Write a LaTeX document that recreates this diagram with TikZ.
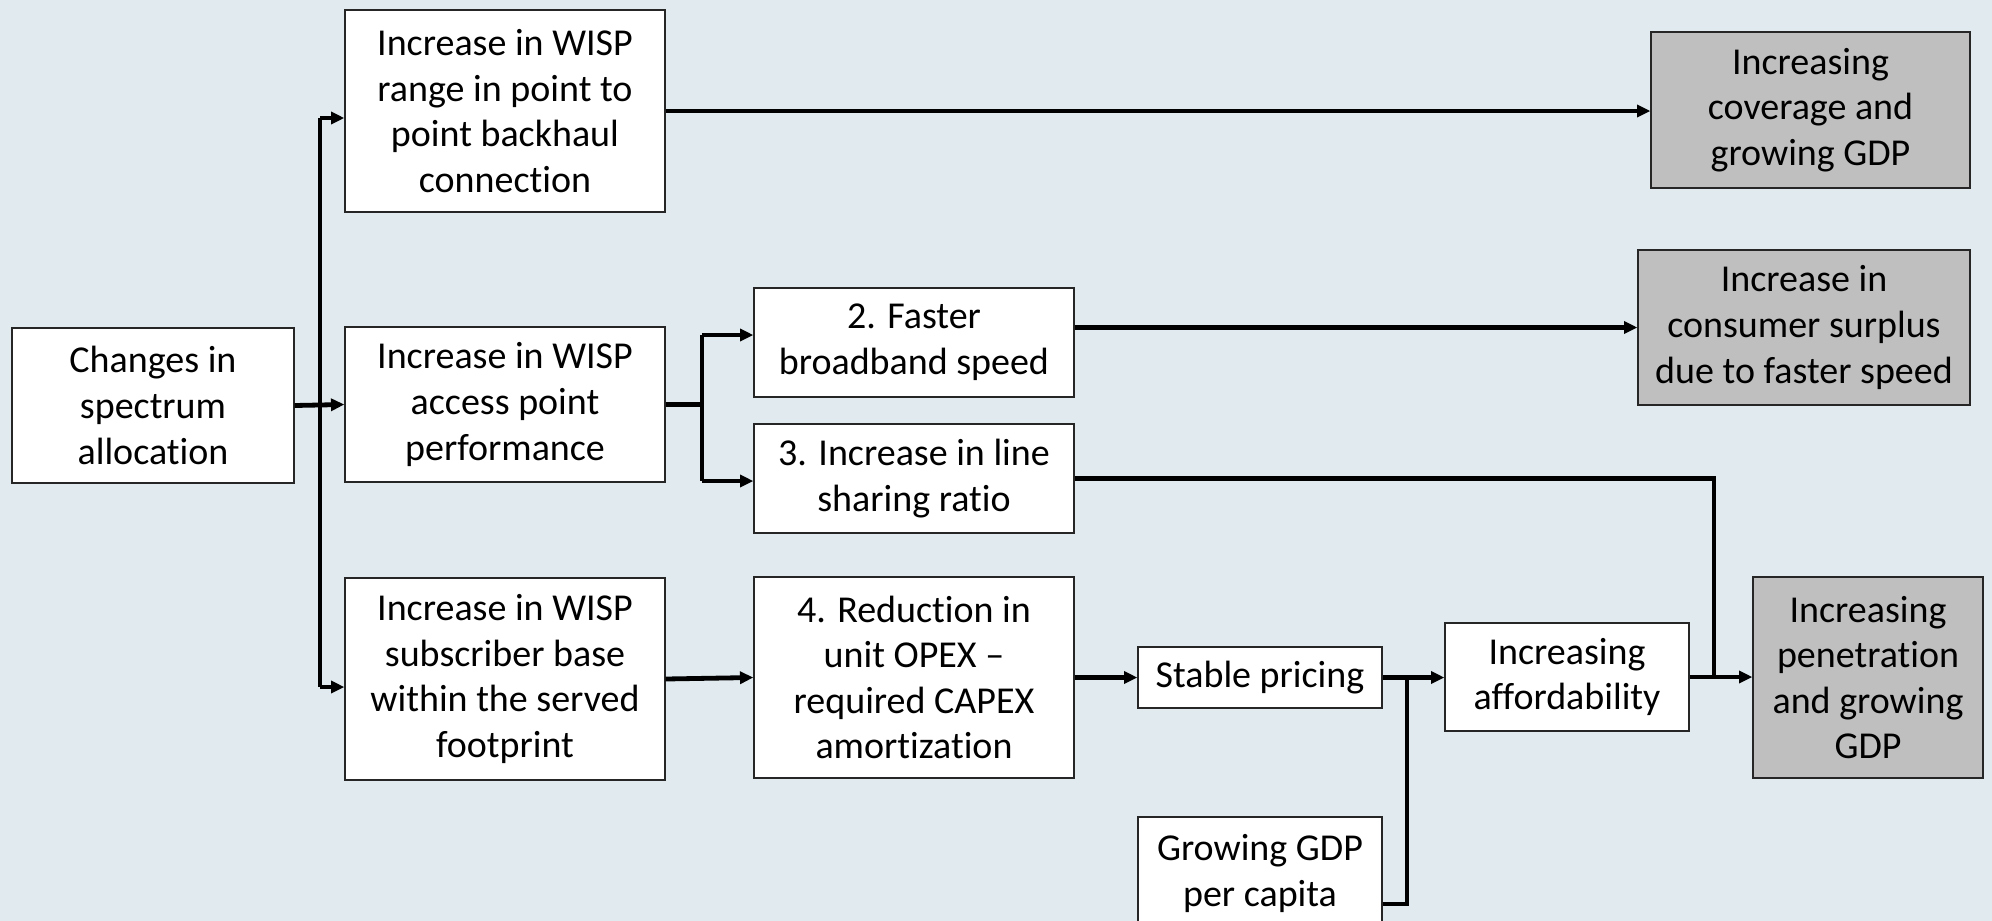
\documentclass[tikz,border=0pt]{standalone}
\usepackage{fontspec}
\setmainfont[Ligatures=NoCommon]{Carlito}
\usetikzlibrary{arrows.meta,calc}
\definecolor{bg}{RGB}{225,234,238}
\definecolor{boxgray}{RGB}{191,191,191}
\definecolor{edge}{RGB}{38,38,38}
\tikzset{
  box/.style={draw=edge, line width=1pt, fill=white, rectangle, inner sep=0pt, align=center,
    font=\fontsize{28.5}{34.2}\selectfont},
  gbox/.style={box, fill=boxgray},
  ln/.style={line width=3.6pt, black},
  arr/.style={ln, -{Triangle[length=10pt,width=9pt]}}
}
\begin{document}
\begin{tikzpicture}[x=0.75pt,y=-0.75pt]
\clip (0,0) rectangle (1992,921);
\fill[bg] (0,0) rectangle (1992,921);
% nodes
\node[box, minimum width=211.5pt, minimum height=116.25pt] (chg) at (153,405.5) {Changes in\\spectrum\\allocation};
\node[box, minimum width=240pt, minimum height=151.5pt] (wr) at (505,111) {Increase in WISP\\range in point to\\point backhaul\\connection};
\node[box, minimum width=240pt, minimum height=116.25pt] (wa) at (505,404.5) {Increase in WISP\\access point\\performance};
\node[box, minimum width=240pt, minimum height=151.5pt] (ws) at (505,679) {Increase in WISP\\subscriber base\\within the served\\footprint};
\node[box, minimum width=240pt, minimum height=81.75pt] (fast) at (914,342.5) {2. Faster\\broadband speed};
\node[box, minimum width=240pt, minimum height=81.75pt] (line) at (914,478.5) {3. Increase in line\\sharing ratio};
\node[box, minimum width=240pt, minimum height=150.75pt] (red) at (914,677.5) {4. Reduction in\\unit OPEX –\\required CAPEX\\amortization};
\node[box, minimum width=183pt, minimum height=45.75pt] (stab) at (1260,677.5) {Stable pricing};
\node[box, minimum width=183pt, minimum height=81pt] (aff) at (1567,677) {Increasing\\affordability};
\node[box, minimum width=183pt, minimum height=84.75pt] (gdp) at (1260,873.5) {Growing GDP\\per capita};
\node[gbox, minimum width=172.5pt, minimum height=150.75pt] (pen) at (1868,677.5) {Increasing\\penetration\\and growing\\GDP};
\node[gbox, minimum width=239.25pt, minimum height=117pt] (cov) at (1810.5,110) {Increasing\\coverage and\\growing GDP};
\node[gbox, minimum width=249pt, minimum height=116.25pt] (sur) at (1804,327.5) {Increase in\\consumer surplus\\due to faster speed};
% junction coordinates
\coordinate (bt) at (320,118);
\coordinate (bb) at (320,687);
\coordinate (j1) at (702,404.5);
\coordinate (j1t) at (702,335);
\coordinate (j1b) at (702,481);
\coordinate (gy) at (0,904);
\coordinate (gj) at (1407,677.5);
\coordinate (pj) at (1714,677);
\coordinate (pt) at (1714,478.5);
% connectors
\draw[arr] (chg.east) -- (wa.west);
\draw[ln] (bt) -- (bb);
\draw[arr] (bt) -- (bt -| wr.west);
\draw[arr] (bb) -- (bb -| ws.west);
\draw[ln] (wa.east) -- (j1);
\draw[ln] (j1t) -- (j1b);
\draw[arr] (j1t) -- (j1t -| fast.west);
\draw[arr] (j1b) -- (j1b -| line.west);
\draw[arr] (fast.east |- sur.west) -- (sur.west);
\draw[arr] (wr.east) -- (wr.east -| cov.west);
\draw[arr] (ws.east) -- (red.west);
\draw[arr] (red.east) -- (red.east -| stab.west);
\draw[arr] (stab.east) -- (stab.east -| aff.west);
\draw[ln] (gdp.east |- gy) -- (gy -| gj) -- (gj);
\draw[arr] (aff.east) -- (aff.east -| pen.west);
\draw[ln] (line.east) -- (pt) -- (pj);
\end{tikzpicture}
\end{document}
